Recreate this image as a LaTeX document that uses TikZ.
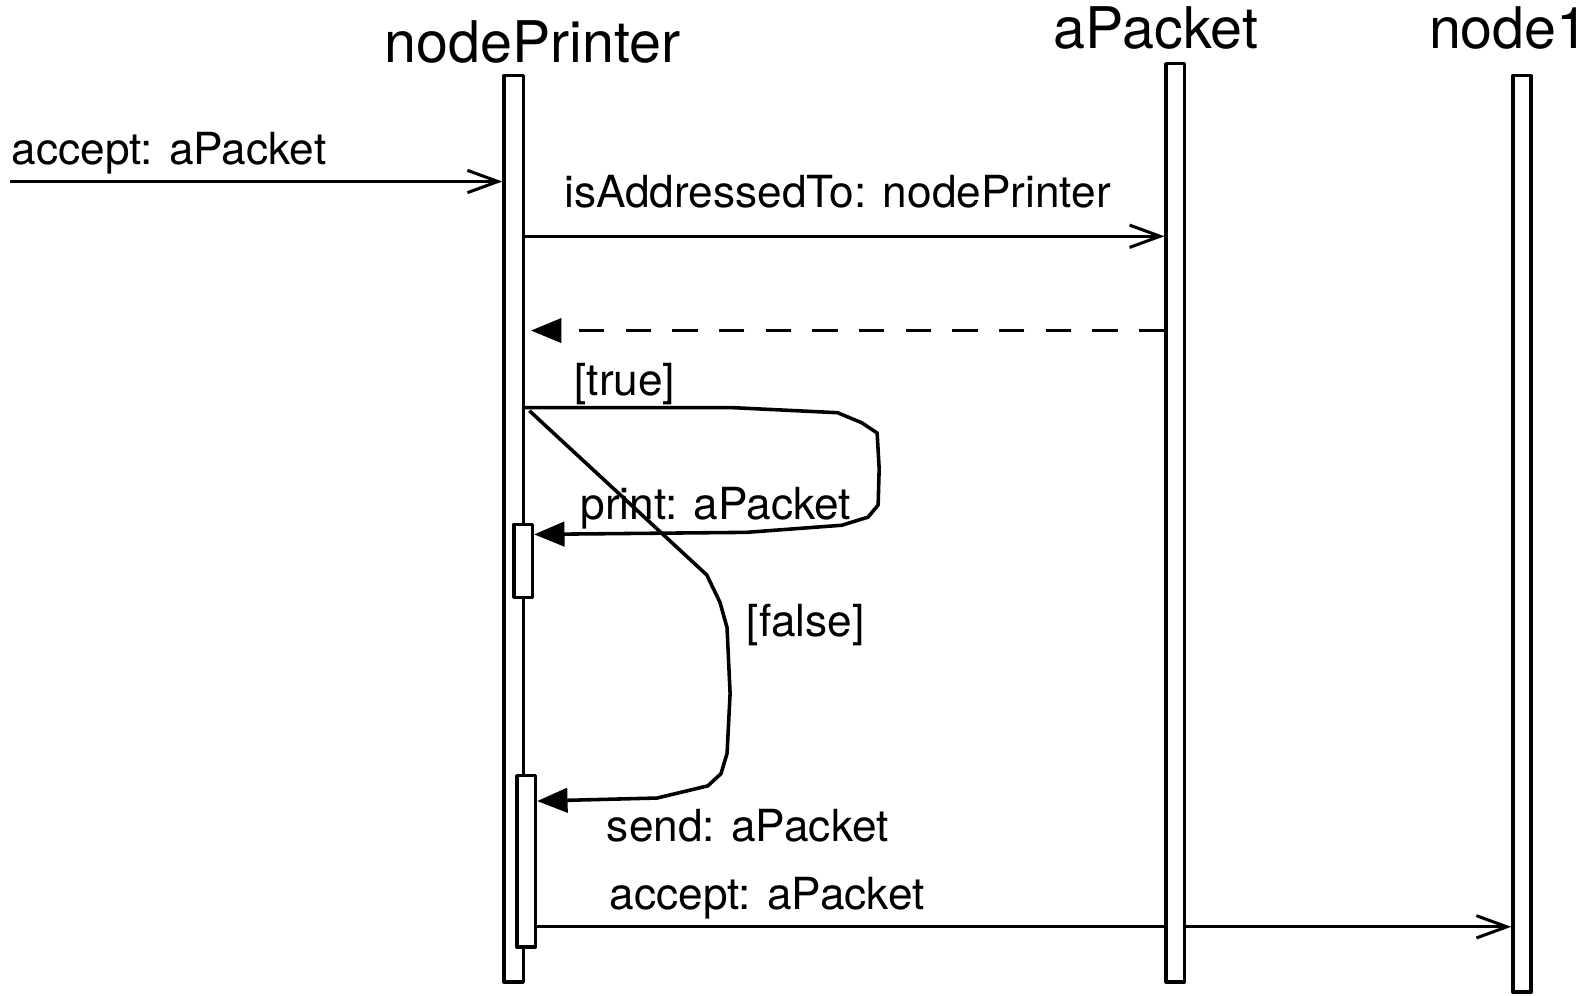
\documentclass[tikz,border=0pt]{standalone}
\usepackage{fontspec}
\setmainfont{TeX Gyre Heros}
\usetikzlibrary{arrows.meta}
\begin{document}
\begin{tikzpicture}[x=0.01cm,y=-0.01cm,
  line width=0.85pt, line join=round,
  life/.style={draw, fill=white, rectangle, inner sep=0pt, line width=0.95pt},
  hdr/.style={inner sep=0pt, anchor=base, font=\fontsize{16.1pt}{18pt}\selectfont},
  lbl/.style={inner sep=0pt, anchor=base west, font=\fontsize{12.4pt}{14pt}\selectfont},
  openmsg/.style={-{Straight Barb[length=0.3cm,width=0.22cm]}},
  fillmsg/.style={-{Triangle[length=0.3cm,width=0.24cm]}},
  loopmsg/.style={fillmsg, line width=1pt},
  retmsg/.style={fillmsg, dash pattern=on 0.25cm off 0.21cm}
]
\useasboundingbox (0,0) rectangle (1568,982);

% headers
\node[hdr] (hnp) at (525,62) {nodePrinter};
\node[hdr] (hap) at (1140,48) {aPacket};
\node[hdr] (hn1) at (1488,48) {node1};

% lifelines
\node[life, minimum width=0.19cm, minimum height=8.93cm] (np) at (506.5,521.5) {};
\node[life, minimum width=0.18cm, minimum height=9.03cm] (n1) at (1501,526.5) {};
\node[life, minimum width=0.18cm, minimum height=0.72cm] (act1) at (516,553) {};
\node[life, minimum width=0.18cm, minimum height=1.69cm] (act2) at (519,849.5) {};

% final message (passes under aPacket lifeline)
\draw[openmsg] (act2.east |- 0,914) -- (n1.west |- 0,914);
\node[life, minimum width=0.18cm, minimum height=9.05cm] (ap) at (1159,515.5) {};

% incoming message
\coordinate (src) at (10,179);
\draw[openmsg] (src) -- (src -| np.west);
\node[lbl] (l1) at (10,162) {accept: aPacket};

% isAddressedTo
\draw[openmsg] (np.east |- 0,233) -- (ap.west |- 0,233);
\node[lbl] (l2) at (555,205) {isAddressedTo: nodePrinter};

% return
\draw[retmsg, shorten >=0.06cm] (ap.west |- 0,326) -- (np.east |- 0,326);

% [true] branch
\draw[loopmsg] (np.east |- 0,402) -- (722,402) -- (826,407) -- (850,417) -- (865,427)
  -- (867,462) -- (866,498) -- (856,510) -- (830,518) -- (736,525) -- (act1.east |- 0,527);
\node[lbl] (l3) at (565,390) {[true]};
\node[lbl] (l4) at (571,512) {print: aPacket};

% [false] branch
\draw[loopmsg, shorten <=0.06cm] (np.east |- 0,401) -- (697,567) -- (710,594) -- (717,619)
  -- (720,684) -- (717,743) -- (711,763) -- (698,775) -- (648,787) -- (act2.east |- 0,790);
\node[lbl] (l5) at (735,628) {[false]};
\node[lbl] (l6) at (597,830) {send: aPacket};
\node[lbl] (l7) at (600,897) {accept: aPacket};
\end{tikzpicture}
\end{document}
